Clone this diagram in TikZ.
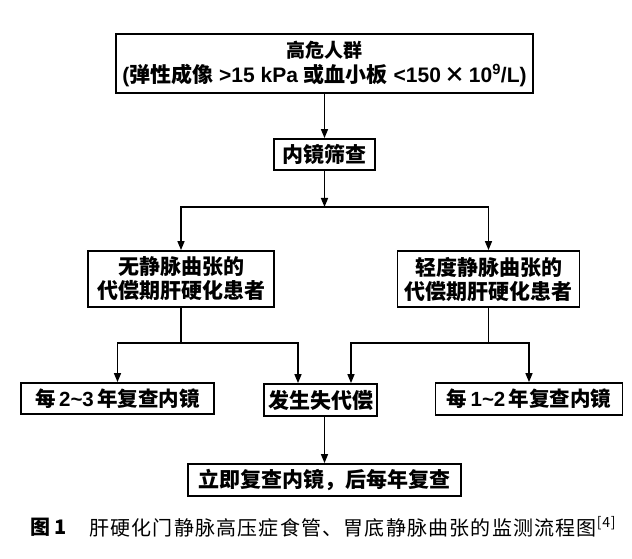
\documentclass[tikz,border=0pt]{standalone}
\usepackage{fontspec}
\setmainfont{Noto Sans CJK SC}
\newfontfamily\lat{Liberation Sans}
\usetikzlibrary{arrows.meta,calc}
\begin{document}
\begin{tikzpicture}[x=1pt,y=1pt,
  box/.style={draw, line width=1.8pt, inner sep=0pt, align=center,
    font=\bfseries\fontsize{21}{24}\selectfont},
  arr/.style={line width=1.5pt, -{Triangle[length=9pt,width=7pt]}},
  ln/.style={line width=1.5pt}]
\useasboundingbox (0,0) rectangle (632,558);
\node[box, minimum width=417pt, minimum height=59pt, font=\bfseries\fontsize{19}{25}\selectfont] (top) at (324.5,494.5)
  {高危人群\\\fontsize{21}{25}\selectfont{\lat(}弹性成像{\lat\ >15 kPa }或血小板{\lat\ <150}\,×\,{\lat 10\textsuperscript{9}/L)}};
\node[box, minimum width=101pt, minimum height=31pt] (screen) at (324.5,403.5) {内镜筛查};
\node[box, minimum width=186pt, minimum height=56pt] (left) at (181,279) {无静脉曲张的\\代偿期肝硬化患者};
\node[box, minimum width=182pt, minimum height=56pt] (right) at (488.5,279) {轻度静脉曲张的\\代偿期肝硬化患者};
\node[box, minimum width=193pt, minimum height=31pt, font=\bfseries\fontsize{20.5}{24}\selectfont] (e23) at (117.5,159.5) {每{\lat\,2\textasciitilde3\,}年复查内镜};
\node[box, minimum width=113pt, minimum height=32pt] (dec) at (320.5,158) {发生失代偿};
\node[box, minimum width=187pt, minimum height=32pt, font=\bfseries\fontsize{20.5}{24}\selectfont] (e12) at (529,159) {每{\lat\,1\textasciitilde2\,}年复查内镜};
\node[box, minimum width=273pt, minimum height=32pt] (bottom) at (324.5,78) {立即复查内镜，后每年复查};

\coordinate (j1) at (324.5,351);
\coordinate (j2) at (181,215);
\coordinate (j3) at (488.5,215);

\draw[arr] (top.south) -- (screen.north);
\draw[arr] (screen.south) -- (j1);
\draw[arr] (j1) -| (left.north);
\draw[arr] (j1) -| (right.north);
\draw[ln] (left.south) -- (j2);
\draw[arr] (j2) -| (e23.north);
\draw[arr] (j2) -| ([xshift=-22.5pt]dec.north);
\draw[ln] (right.south) -- (j3);
\draw[arr] (j3) -| ([xshift=30.5pt]dec.north);
\draw[arr] (j3) -| (e12.north);
\draw[arr] (dec.south -| bottom.north) -- (bottom.north);

\node[anchor=west, inner sep=0pt, font=\bfseries\fontsize{20}{20}\selectfont] (fig) at (30,31) {图 1};
\node[anchor=west, inner sep=0pt, font=\fontsize{20}{20}\selectfont\addfontfeature{LetterSpace=6}] (cap) at (89,31)
  {肝硬化门静脉高压症食管、胃底静脉曲张的监测流程图\textsuperscript{[4]}};
\end{tikzpicture}
\end{document}
